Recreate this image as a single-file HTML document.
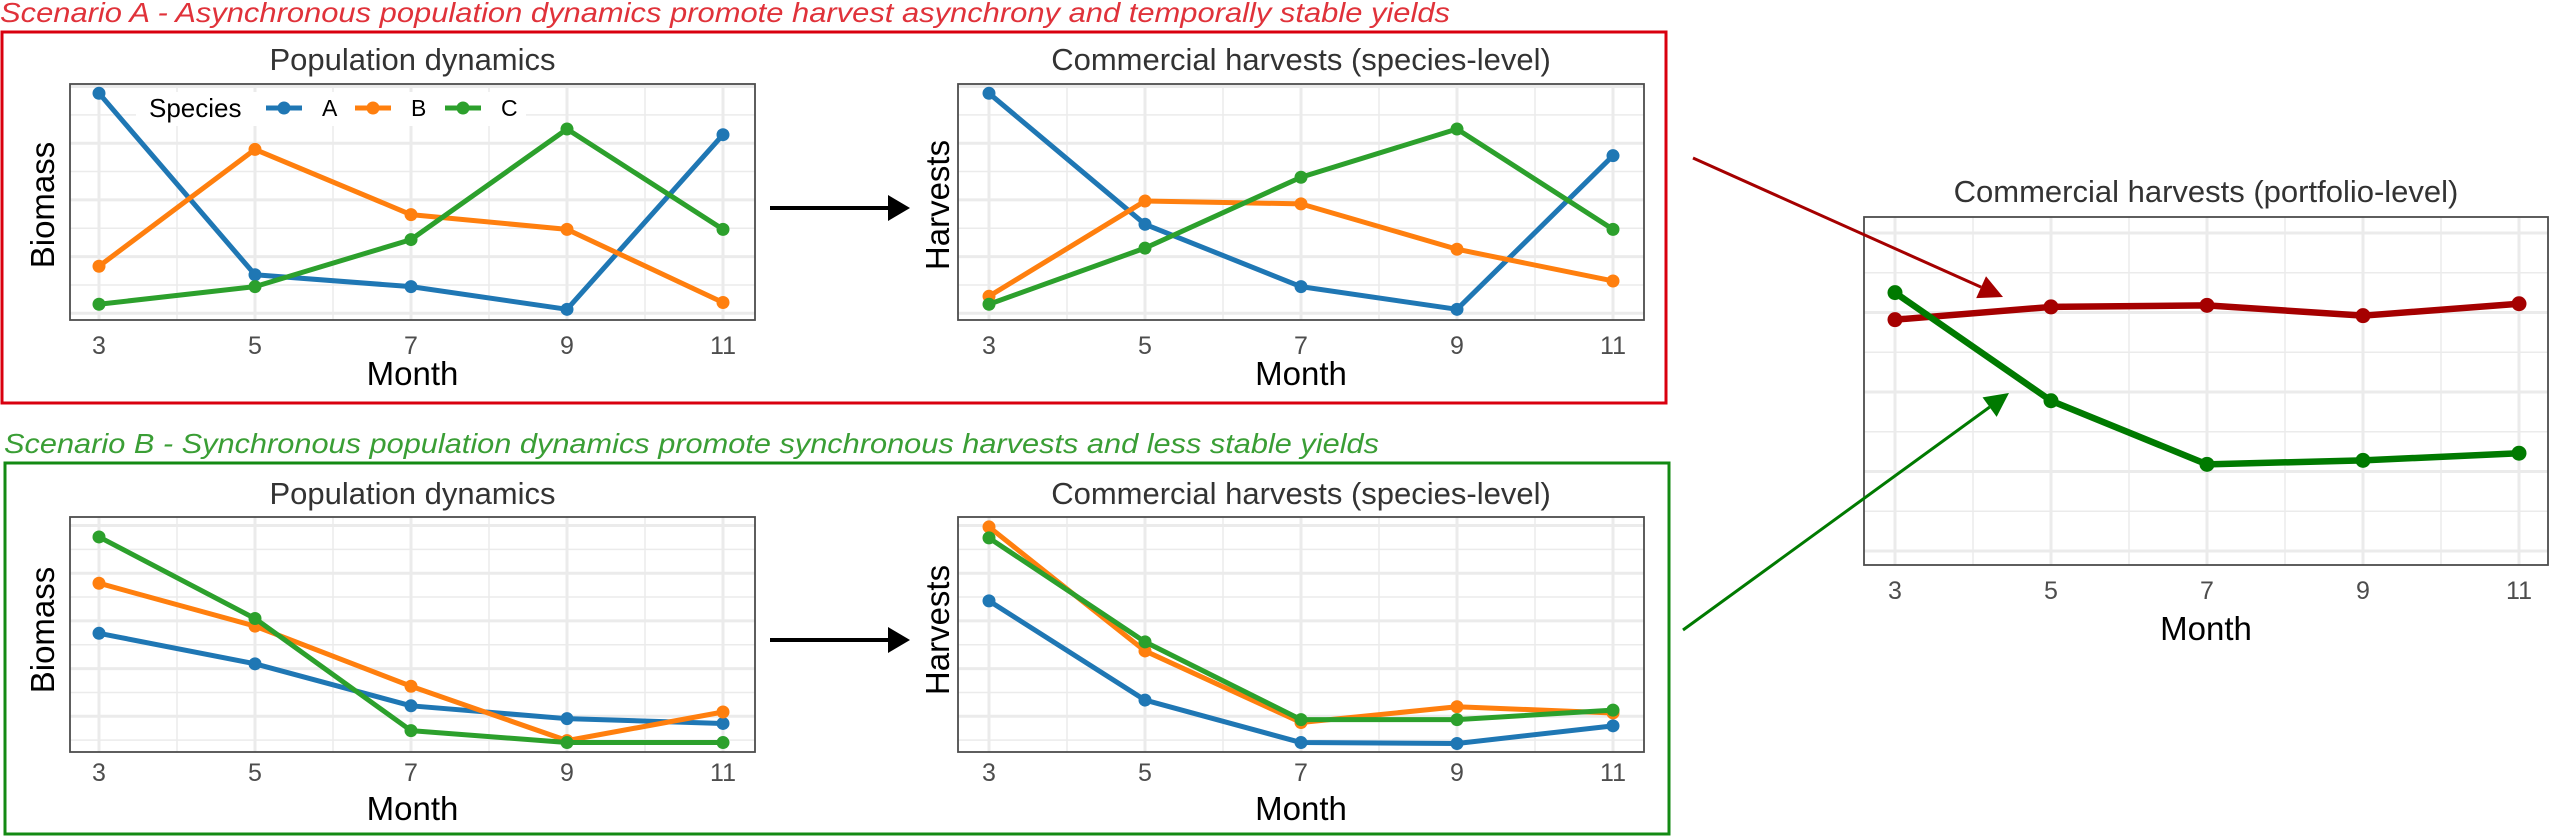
<!DOCTYPE html>
<html><head><meta charset="utf-8"><style>
html,body{margin:0;padding:0;background:#fff;}
svg{display:block;font-family:"Liberation Sans",Arial,sans-serif;}
</style></head><body>
<svg id="fig" width="2551" height="837" viewBox="0 0 2551 837" xmlns="http://www.w3.org/2000/svg">
<text x="0" y="22" font-size="28" font-style="italic" fill="#e0323a" textLength="1450" lengthAdjust="spacingAndGlyphs">Scenario A - Asynchronous population dynamics promote harvest asynchrony and temporally stable yields</text>
<rect x="2" y="32" width="1664" height="371" fill="none" stroke="#d9000f" stroke-width="3"/>
<text x="4" y="453" font-size="28" font-style="italic" fill="#3a9e35" textLength="1375" lengthAdjust="spacingAndGlyphs">Scenario B - Synchronous population dynamics promote synchronous harvests and less stable yields</text>
<rect x="5" y="463" width="1664" height="371" fill="none" stroke="#138a13" stroke-width="3"/>
<g id="layer"></g>
</svg>
<script>
// ---- data ----
const months = [3, 5, 7, 9, 11];
const species = ["A", "B", "C"];
const popA_A = [3.88, 0.68, 0.47, 0.07, 3.15];
const popA_B = [0.83, 2.89, 1.74, 1.48, 0.19];
const popA_C = [0.16, 0.47, 1.30, 3.25, 1.48];
const harA_A = [3.88, 1.57, 0.47, 0.07, 2.78];
const harA_B = [0.30, 1.98, 1.93, 1.13, 0.57];
const harA_C = [0.16, 1.15, 2.40, 3.25, 1.48];
const popB_A = [2.74, 2.10, 1.22, 0.95, 0.85];
const popB_B = [3.79, 2.89, 1.63, 0.49, 1.09];
const popB_C = [4.76, 3.05, 0.70, 0.45, 0.45];
const harB_A = [3.42, 1.34, 0.45, 0.43, 0.80];
const harB_B = [4.97, 2.37, 0.87, 1.20, 1.07];
const harB_C = [4.74, 2.56, 0.93, 0.93, 1.13];
const portA = [2.91, 3.07, 3.09, 2.96, 3.11];
const portB = [3.25, 1.89, 1.09, 1.14, 1.23];
const tickLabels = ["3", "5", "7", "9", "11"];

const NS = "http://www.w3.org/2000/svg";
const layer = document.getElementById("layer");
function mk(tag, attrs, parent) {
  const e = document.createElementNS(NS, tag);
  for (const k in attrs) e.setAttribute(k, attrs[k]);
  (parent || layer).appendChild(e);
  return e;
}
const colors = ["#1f77b4", "#ff7f0e", "#2ca02c"];

function panel(cfg) {
  const g = mk("g", {});
  
  
  const xs = m => cfg.x3 + (m - 3) * cfg.step;
  const ys = v => cfg.y0 - v * cfg.unit;
  for (let v = cfg.gmin; v <= cfg.gmax + 1e-9; v += 0.5) {
    const y = ys(v);
    if (y < cfg.top || y > cfg.bot) continue;
    const major = Math.abs(v - Math.round(v)) < 1e-6;
    const l = mk("line", {x1: cfg.left, x2: cfg.right, y1: y, y2: y, stroke: "#ebebeb", "stroke-width": major ? 3 : 1.5}, g);
    
    
  }
  for (let m = 3; m <= 11; m += 1) {
    const x = xs(m);
    const l = mk("line", {x1: x, x2: x, y1: cfg.top, y2: cfg.bot, stroke: "#ebebeb", "stroke-width": (m % 2) ? 3 : 1.5}, g);
    
    
  }
  cfg.series.forEach((s, i) => {
    const pts = months.map((m, j) => xs(m) + "," + ys(s.vals[j])).join(" ");
    const pl = mk("polyline", {points: pts, fill: "none", stroke: s.color, "stroke-width": cfg.lw, "stroke-linejoin": "round"}, g);
    
    
    months.forEach((m, j) => {
      const c = mk("circle", {cx: xs(m), cy: ys(s.vals[j]), r: cfg.r, fill: s.color}, g);
      
      
    });
  });
  const border = mk("rect", {x: cfg.left, y: cfg.top, width: cfg.right - cfg.left, height: cfg.bot - cfg.top, fill: "none", stroke: "#4d4d4d", "stroke-width": 1.8}, g);
  
  
  months.forEach((m, j) => {
    const t = mk("text", {x: xs(m), y: cfg.tickY + 9, "font-size": 25, fill: "#4d4d4d", "text-anchor": "middle"}, g);
    t.textContent = tickLabels[j];
    
    
  });
  const xt = mk("text", {x: (cfg.left + cfg.right) / 2, y: cfg.monthY + 12, "font-size": 33, fill: "#000", "text-anchor": "middle"}, g);
  xt.textContent = "Month";
  
  
  const tt = mk("text", {x: (cfg.left + cfg.right) / 2, y: cfg.titleY, "font-size": 31, fill: "#333", "text-anchor": "middle"}, g);
  tt.textContent = cfg.title;
  
  
  if (cfg.ylab) {
    const yt = mk("text", {x: 0, y: 0, "font-size": 33, fill: "#000", "text-anchor": "middle", transform: "translate(" + (cfg.ylabX + 12) + "," + cfg.ylabY + ") rotate(-90)"}, g);
    yt.textContent = cfg.ylab;
    
    
  }
  return g;
}
function sp(a, b, c) {
  return [{key: "A", color: colors[0], vals: a}, {key: "B", color: colors[1], vals: b}, {key: "C", color: colors[2], vals: c}];
}
const rowA = {top: 84, bot: 320, y0: 313.3, unit: 56.7, gmin: -0.5, gmax: 4, tickY: 345, monthY: 373, titleY: 70, ylabY: 205, lw: 5, r: 6.5};
const rowB = {top: 517, bot: 752, y0: 764, unit: 47.7, gmin: 0, gmax: 5.5, tickY: 772, monthY: 808, titleY: 504, ylabY: 630, lw: 5, r: 6.5};
const colL = {left: 70, right: 755, x3: 99, step: 78, ylabX: 42, ylab: "Biomass", title: "Population dynamics"};
const colR = {left: 958, right: 1644, x3: 989, step: 78, ylabX: 937, ylab: "Harvests", title: "Commercial harvests (species-level)"};

panel(Object.assign({name: "panel-a-population", series: sp(popA_A, popA_B, popA_C)}, rowA, colL));
panel(Object.assign({name: "panel-a-harvests", series: sp(harA_A, harA_B, harA_C)}, rowA, colR));
panel(Object.assign({name: "panel-b-population", series: sp(popB_A, popB_B, popB_C)}, rowB, colL));
panel(Object.assign({name: "panel-b-harvests", series: sp(harB_A, harB_B, harB_C), lw: 6.5, r: 7.5}, rowB, colR));
panel({name: "panel-portfolio", left: 1864, right: 2548, top: 217, bot: 565, x3: 1895, step: 78, y0: 551, unit: 79.5, gmin: -0.5, gmax: 4.5,
  tickY: 590, monthY: 628, titleY: 202, ylab: null, title: "Commercial harvests (portfolio-level)", lw: 6.5, r: 7.5,
  series: [{key: "scenario-a", color: "#a50000", vals: portA}, {key: "scenario-b", color: "#007a00", vals: portB}]});

const lg = mk("g", {});


mk("rect", {x: 136, y: 92, width: 390, height: 34, fill: "#fff"}, lg);
const lt = mk("text", {x: 149, y: 117, "font-size": 26, fill: "#000"}, lg);
lt.textContent = "Species";
const legX = [266, 355, 445];
species.forEach((s, i) => {
  const li = mk("line", {x1: legX[i], x2: legX[i] + 36, y1: 108, y2: 108, stroke: colors[i], "stroke-width": 5}, lg);
  
  
  mk("circle", {cx: legX[i] + 18, cy: 108, r: 6.5, fill: colors[i]}, lg);
  const t = mk("text", {x: legX[i] + 56, y: 116, "font-size": 23, fill: "#000"}, lg);
  t.textContent = s;
  
  
});

function arrow(name, x1, y1, x2, y2, color, w, hl, hw) {
  const g = mk("g", {});
  
  
  const dx = x2 - x1, dy = y2 - y1, L = Math.hypot(dx, dy), ux = dx / L, uy = dy / L;
  const bx = x2 - ux * hl, by = y2 - uy * hl;
  mk("line", {x1: x1, y1: y1, x2: bx, y2: by, stroke: color, "stroke-width": w}, g);
  mk("polygon", {points: x2 + "," + y2 + " " + (bx - uy * hw) + "," + (by + ux * hw) + " " + (bx + uy * hw) + "," + (by - ux * hw), fill: color}, g);
}
arrow("arrow-a", 770, 208, 910, 208, "#000", 4, 22, 13);
arrow("arrow-b", 770, 640, 910, 640, "#000", 4, 22, 13);
arrow("arrow-red-portfolio", 1693, 158, 2003, 297, "#a50000", 3, 24, 12);
arrow("arrow-green-portfolio", 1683, 630, 2009, 393, "#007a00", 3, 24, 12);
</script>
</body></html>
